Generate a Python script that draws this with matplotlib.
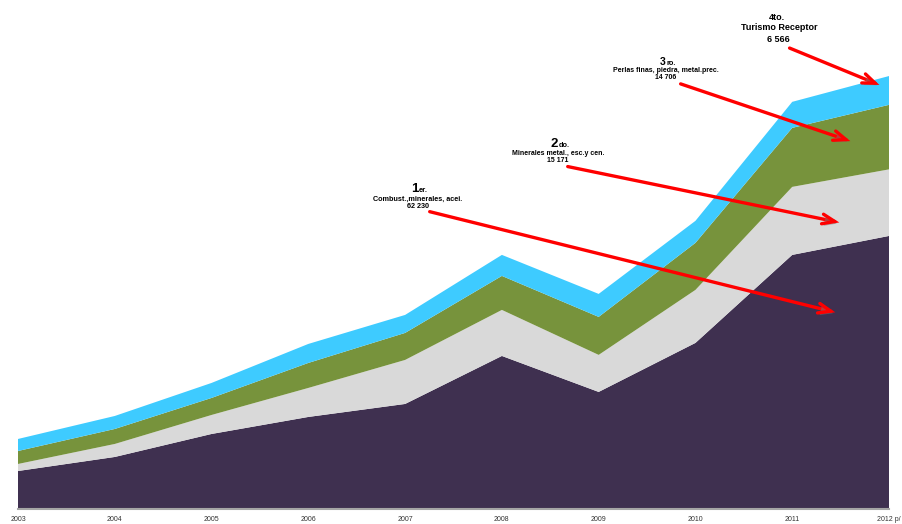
import matplotlib
matplotlib.use("Agg")
import matplotlib.pyplot as plt
import matplotlib.patheffects as pe
from matplotlib.patches import FancyArrowPatch

years = [2003, 2004, 2005, 2006, 2007, 2008, 2009, 2010, 2011, 2012]
year_labels = ["2003", "2004", "2005", "2006", "2007", "2008", "2009", "2010", "2011", "2012 p/"]

combustibles = [8660, 11860, 17100, 20980, 23940, 34880, 26680, 37850, 57910, 62230]
minerales = [1600, 2960, 4330, 6610, 10030, 10490, 8440, 12080, 15500, 15171]
perlas = [2960, 3420, 3880, 5700, 6160, 7750, 8660, 10720, 13450, 14706]
turismo = [2740, 2960, 3420, 4330, 4100, 4790, 5240, 5020, 5930, 6566]

series_colors = ["#3F3050", "#D9D9D9", "#77933C", "#3ECBFF"]

W, H = 902, 524
fig = plt.figure(figsize=(W / 100, H / 100), dpi=100)
ax = fig.add_axes([18 / W, (H - 509) / H, (889 - 18) / W, 509 / H])

ax.stackplot(years, combustibles, minerales, perlas, turismo,
             colors=series_colors, linewidth=0)
ax.set_xlim(2003, 2012)
ax.set_ylim(0, 116000)

for s in ["top", "right", "left"]:
    ax.spines[s].set_visible(False)
ax.spines["bottom"].set_color("#A6A6A6")
ax.spines["bottom"].set_linewidth(1.5)
ax.set_yticks([])
ax.set_xticks(years)
ax.set_xticklabels(year_labels, fontsize=5, color="#333333", family="Liberation Sans")
ax.tick_params(axis="x", length=0, pad=5)
for lbl in ax.get_xticklabels():
    lbl.set_clip_on(False)


def fp(x, y):
    return (x / W, 1 - y / H)


shadow = [pe.SimplePatchShadow(offset=(1.5, -1.5), shadow_rgbFace="#777777", alpha=0.5), pe.Normal()]
ARROW = "->,head_length=9,head_width=3.5"


def red_arrow(a0, a1):
    ar = fig.add_artist(FancyArrowPatch(
        fp(*a0), fp(*a1), transform=fig.transFigure,
        arrowstyle=ARROW, mutation_scale=1, color="#FF0000", lw=2.4,
        capstyle="round", joinstyle="miter"))
    ar.set_path_effects(shadow)


annotations = [
    ("1", "er.", "Combust.,minerales, acei.", "62 230", 418, 192, 199.5, 206, (427, 211), (838, 313), 9.5, 5.2),
    ("2", "do.", "Minerales metal., esc.y cen.", "15 171", 558, 147, 153.5, 161, (565, 166), (842, 223), 9.5, 5.0),
    ("3", "ro.", "Perlas finas, piedra, metal.prec.", "14 706", 666, 65, 70.5, 77.5, (678, 83), (853, 142), 7.5, 5.0),
]

for rank, suf, name, val, cx, by, ny, vy, a0, a1, rs, ts in annotations:
    fig.text(*fp(cx, by), rank, ha="right", va="baseline", fontsize=rs,
             fontweight="bold", family="Liberation Sans")
    fig.text(*fp(cx + 0.5, by), suf, ha="left", va="baseline", fontsize=ts + 0.3,
             fontweight="bold", family="Liberation Sans")
    fig.text(*fp(cx, ny), name, ha="center", va="center", fontsize=ts,
             fontweight="bold", family="Liberation Sans")
    fig.text(*fp(cx, vy), val, ha="center", va="center", fontsize=ts,
             fontweight="bold", family="Liberation Sans")
    red_arrow(a0, a1)

fig.text(*fp(777, 17), "4to.", ha="center", va="center", fontsize=6.5,
         fontweight="bold", family="Liberation Sans")
fig.text(*fp(779, 28), "Turismo Receptor", ha="center", va="center", fontsize=6.5,
         fontweight="bold", family="Liberation Sans")
fig.text(*fp(778, 40), "6 566", ha="center", va="center", fontsize=6.5,
         fontweight="bold", family="Liberation Sans")
red_arrow((787, 47), (882, 86))

fig.savefig("out.png", dpi=100)
